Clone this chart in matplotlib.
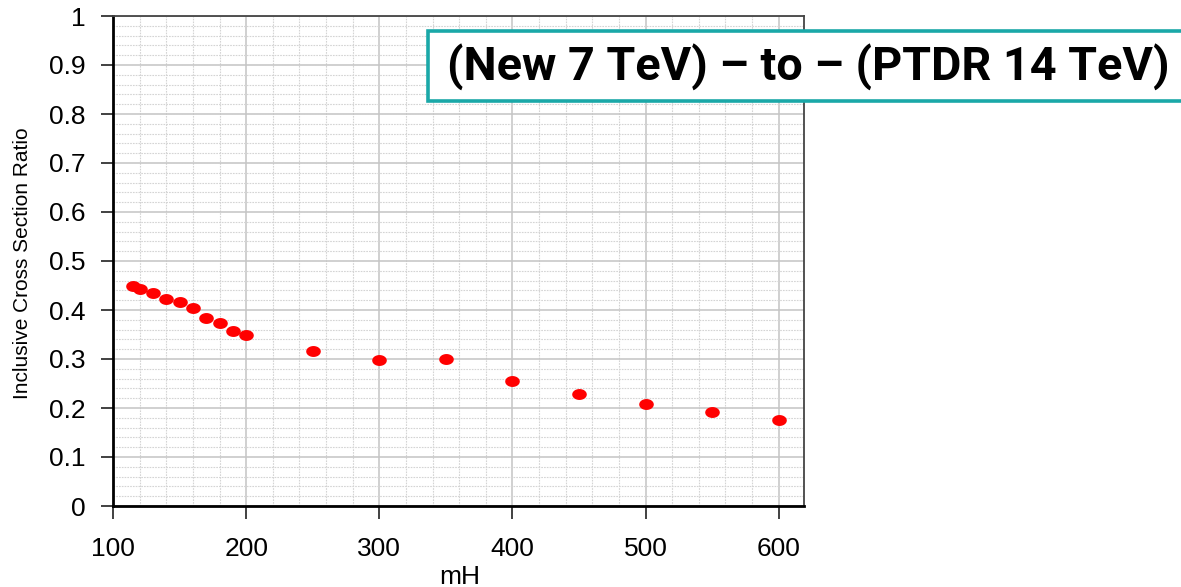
import matplotlib
matplotlib.use("Agg")
import matplotlib.pyplot as plt
import matplotlib.patches as mpatches
from matplotlib.path import Path
from matplotlib.ticker import MultipleLocator
import numpy as np

# Higgs mass points and inclusive cross-section ratio (7 TeV / 14 TeV)
mass = [115, 120, 130, 140, 150, 160, 170, 180, 190, 200,
        250, 300, 350, 400, 450, 500, 550, 600]
ratio = [0.449, 0.443, 0.435, 0.423, 0.416, 0.405, 0.384, 0.373, 0.357, 0.348,
         0.316, 0.298, 0.300, 0.255, 0.229, 0.208, 0.191, 0.176]

title_text = "(New 7 TeV) \u2013 to \u2013 (PTDR 14 TeV)"

W, H = 1181, 587


def fit_width(fig, txt, target_px, horizontal=True):
    """Rescale a text's font size so its extent matches target_px."""
    r = fig.canvas.get_renderer()
    bb = txt.get_window_extent(renderer=r)
    cur = bb.width if horizontal else bb.height
    txt.set_fontsize(txt.get_fontsize() * target_px / cur)


# slightly flattened dot, like the original
t = np.linspace(0, 2 * np.pi, 40)
ellipse = Path(np.column_stack([np.cos(t), 0.72 * np.sin(t)]), closed=True)

fig = plt.figure(figsize=(W / 100, H / 100), dpi=100)
ax = fig.add_axes([113 / W, 1 - 506 / H, 691 / W, 490 / H])

ax.plot(mass, ratio, ls="none", marker=ellipse, ms=9.5, color="#ff0000",
        mec="#ff0000", zorder=5, clip_on=False)

ax.set_xlim(100, 619)
ax.set_ylim(0, 1)
ax.xaxis.set_major_locator(MultipleLocator(100))
ax.xaxis.set_minor_locator(MultipleLocator(20))
ax.yaxis.set_minor_locator(MultipleLocator(0.02))
ax.set_yticks(np.arange(0, 1.01, 0.1))
ax.set_yticklabels(["0"] + [f"{v:.1f}" for v in np.arange(0.1, 0.95, 0.1)] + ["1"])

ax.grid(which="major", color="#c4c4c4", lw=1.1, ls="-")
ax.grid(which="minor", color="#d4d4d4", lw=0.8, ls=(0, (1.5, 1)))
ax.set_axisbelow(True)

ax.tick_params(which="major", direction="out", length=9, width=1.3,
               labelsize=19, color="#333333")
ax.tick_params(axis="x", which="major", pad=13)
ax.tick_params(axis="y", which="major", pad=11)
ax.tick_params(which="minor", length=0)
for lab in ax.get_xticklabels() + ax.get_yticklabels():
    lab.set_family("Liberation Sans")

for side in ["left", "bottom"]:
    ax.spines[side].set_linewidth(2)
    ax.spines[side].set_color("black")
for side in ["top", "right"]:
    ax.spines[side].set_linewidth(1.3)
    ax.spines[side].set_color("#444444")

fig.text(460 / W, 1 - 584 / H, "mH", family="Liberation Sans", fontsize=19,
         ha="center", va="baseline")
ylab = fig.text(23 / W, 1 - 263 / H, "Inclusive Cross Section Ratio",
                family="Liberation Sans", fontsize=15, rotation=90,
                ha="center", va="center")

# title box running off the right edge
fig.patches.append(mpatches.Rectangle((428 / W, 1 - 101 / H), (W + 20 - 428) / W,
                                      70 / H, transform=fig.transFigure,
                                      fc="white", ec="#1aa8a8", lw=2.6, zorder=10))
title = fig.text(0.5 * (447 + 1169) / W, 1 - 67 / H, title_text,
                 family=["Roboto", "DejaVu Sans"], fontweight="bold",
                 fontsize=30, ha="center", va="center", zorder=11)

fig.canvas.draw()
fit_width(fig, title, 722)
fit_width(fig, ylab, 272, horizontal=False)

fig.savefig("out.png", dpi=100)
